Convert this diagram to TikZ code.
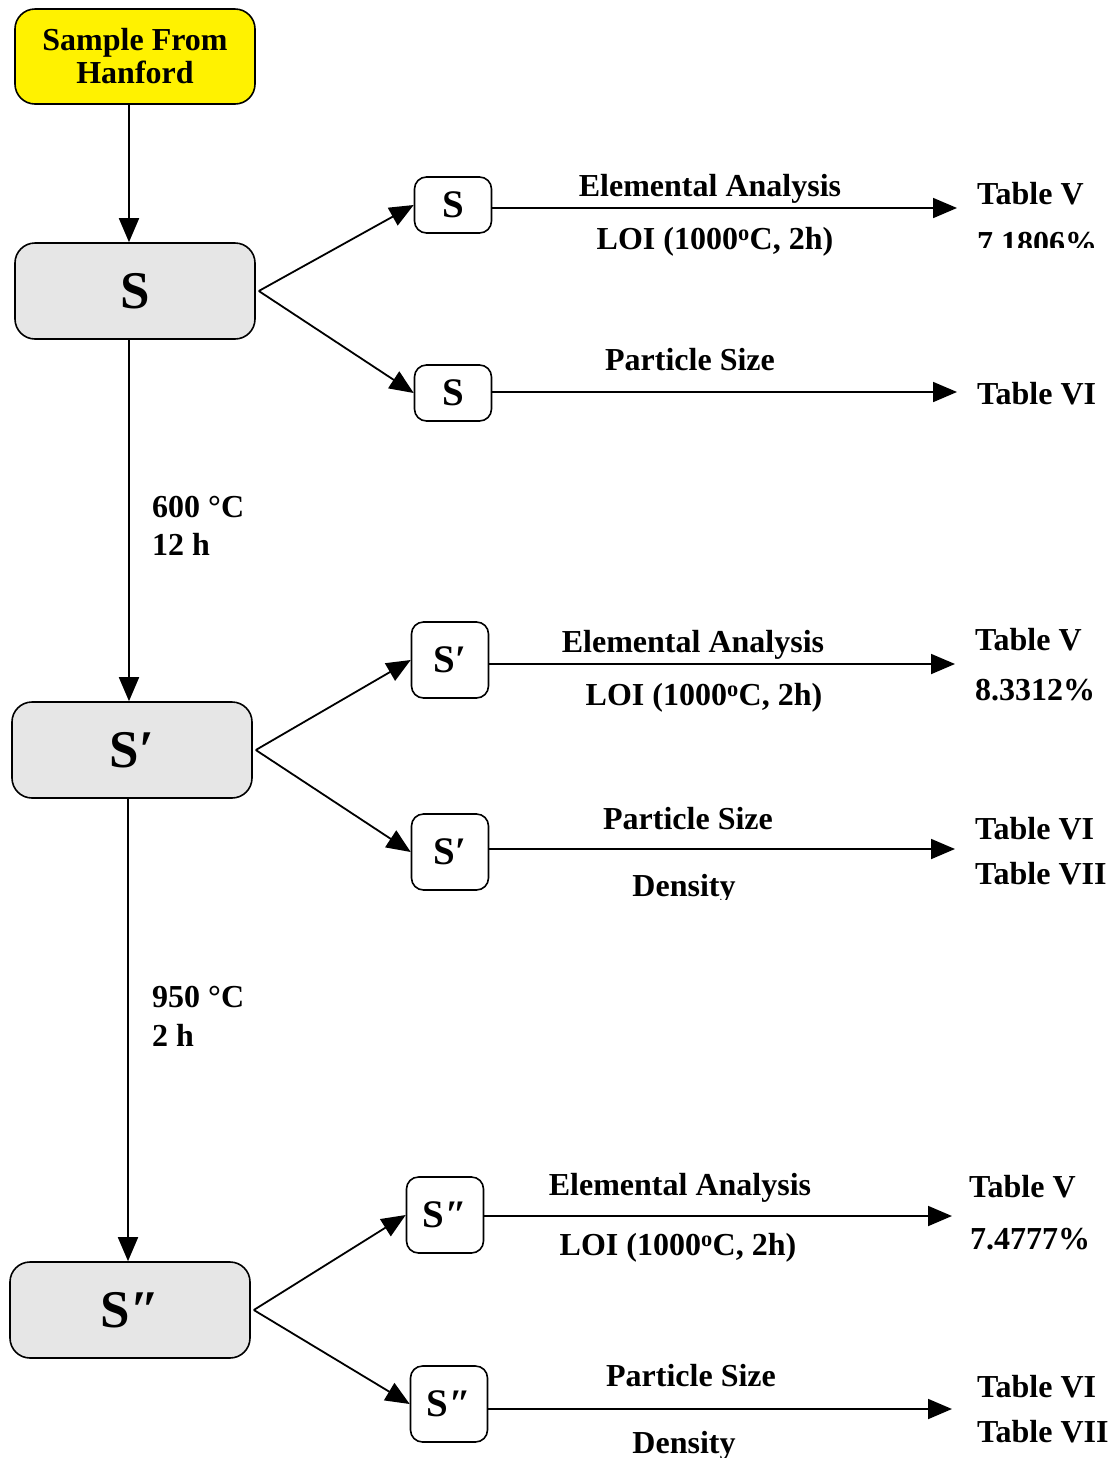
\documentclass[tikz,border=0pt]{standalone}
\usepackage{fontspec}
\setmainfont{Liberation Serif}
\usetikzlibrary{arrows.meta}
\definecolor{boxgray}{HTML}{E6E6E6}
\definecolor{srcyellow}{HTML}{FFF200}
\begin{document}
\begin{tikzpicture}[x=1pt,y=-1pt,
  lbl/.style={font=\fontsize{32}{35}\selectfont\bfseries, inner sep=0pt},
  mainbox/.style={draw, line width=1.6pt, rounded corners=20pt, fill=boxgray, minimum width=240pt, minimum height=96pt, font=\fontsize{53}{56}\selectfont\bfseries},
  smallbox/.style={draw, line width=1.6pt, rounded corners=12pt, fill=white, minimum width=77pt, minimum height=56pt, font=\fontsize{39}{40}\selectfont\bfseries},
  arr/.style={line width=1.8pt, -{Triangle[length=24pt,width=20pt]}}]
\useasboundingbox (0,0) rectangle (1118,1460);

% main column
\node[mainbox, fill=srcyellow, font=\fontsize{32}{33}\selectfont\bfseries, align=center, minimum height=95pt] (src) at (135,56.5) {Sample From\\Hanford};
\node[mainbox] (s) at (135,291) {S};
\node[mainbox] (s1) at (132,750) {S\kern1pt′};
\node[mainbox] (s2) at (130,1310) {S\kern1pt″};

\draw[arr] ([xshift=-6pt]src.south) -- ([xshift=-6pt]src.south |- s.north);
\draw[arr] ([xshift=-6pt]s.south) -- ([xshift=-6pt]s.south |- s1.north);
\draw[arr] ([xshift=-4pt]s1.south) -- ([xshift=-4pt]s1.south |- s2.north);

\node[lbl, anchor=west] (t1) at (152,507) {600 °C};
\node[lbl, anchor=west] (t2) at (152,544) {12 h};
\node[lbl, anchor=west] (t3) at (152,997) {950 °C};
\node[lbl, anchor=west] (t4) at (152,1035) {2 h};

% small boxes
\node[smallbox] (a1) at (453,205) {S};
\node[smallbox] (a2) at (453,393) {S};
\node[smallbox, minimum height=76pt] (b1) at (450,660) {S\kern1pt′};
\node[smallbox, minimum height=76pt] (b2) at (450,852) {S\kern1pt′};
\node[smallbox, minimum height=76pt] (c1) at (445,1215) {S\kern1pt″};
\node[smallbox, minimum height=76pt] (c2) at (449,1404) {S\kern1pt″};

\draw[arr] ([xshift=3pt]s.east) -- (a1.west);
\draw[arr] ([xshift=3pt]s.east) -- (a2.west);
\draw[arr] ([xshift=3pt]s1.east) -- (b1.west);
\draw[arr] ([xshift=3pt]s1.east) -- (b2.west);
\draw[arr] ([xshift=3pt]s2.east) -- (c1.west);
\draw[arr] ([xshift=3pt]s2.east) -- (c2.west);

% horizontal arrows
\coordinate (ea1) at (957,208);
\coordinate (ea2) at (957,392);
\coordinate (eb1) at (955,664);
\coordinate (eb2) at (955,849);
\coordinate (ec1) at (952,1216);
\coordinate (ec2) at (952,1409);
\draw[arr] (a1.east |- ea1) -- (ea1);
\draw[arr] (a2.east |- ea2) -- (ea2);
\draw[arr] (b1.east |- eb1) -- (eb1);
\draw[arr] (b2.east |- eb2) -- (eb2);
\draw[arr] (c1.east |- ec1) -- (ec1);
\draw[arr] (c2.east |- ec2) -- (ec2);

% row labels
\node[lbl] (la1) at (710,189) {Elemental Analysis};
\node[lbl] (lb1) at (715,242) {LOI (1000\textsuperscript{o}C, 2h)};
\node[lbl, anchor=west] (ra1) at (977,194) {Table V};
\begin{scope}
\clip (960,222) rectangle (1118,247);
\node[lbl, anchor=west] (rb1) at (977,243) {7.1806\%};
\end{scope}

\node[lbl] (la2) at (690,360) {Particle Size};
\node[lbl, anchor=west] (ra2) at (977,394) {Table VI};

\node[lbl] (la3) at (693,645) {Elemental Analysis};
\node[lbl] (lb3) at (704,698) {LOI (1000\textsuperscript{o}C, 2h)};
\node[lbl, anchor=west] (ra3) at (975,640) {Table V};
\node[lbl, anchor=west] (rb3) at (975,690) {8.3312\%};

\node[lbl] (la4) at (688,819) {Particle Size};
\begin{scope}
\clip (600,860) rectangle (780,899);
\node[lbl] (lb4) at (684,889) {Density};
\end{scope}
\node[lbl, anchor=west] (ra4) at (975,829) {Table VI};
\node[lbl, anchor=west] (rb4) at (975,874) {Table VII};

\node[lbl] (la5) at (680,1188) {Elemental Analysis};
\node[lbl] (lb5) at (678,1248) {LOI (1000\textsuperscript{o}C, 2h)};
\node[lbl, anchor=west] (ra5) at (969,1187) {Table V};
\node[lbl, anchor=west] (rb5) at (970,1239) {7.4777\%};

\node[lbl] (la6) at (691,1376) {Particle Size};
\begin{scope}
\clip (600,1420) rectangle (780,1457);
\node[lbl] (lb6) at (684,1446) {Density};
\end{scope}
\node[lbl, anchor=west] (ra6) at (977,1387) {Table VI};
\node[lbl, anchor=west] (rb6) at (977,1432) {Table VII};
\end{tikzpicture}
\end{document}
